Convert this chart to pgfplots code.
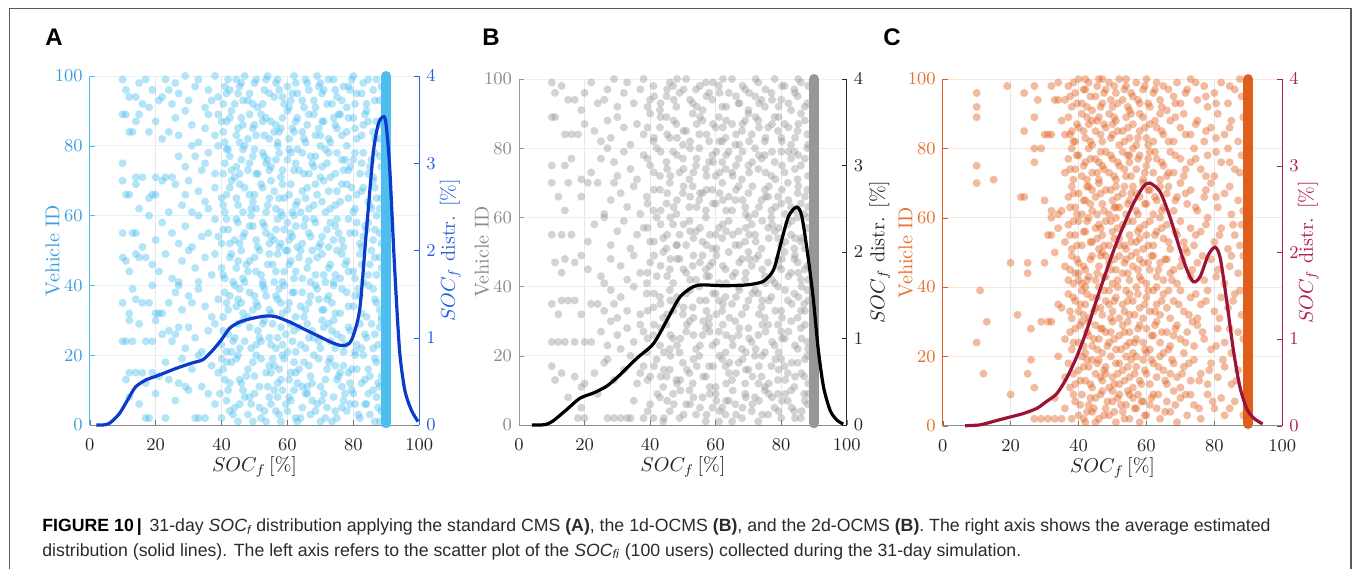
\documentclass[border=0pt]{standalone}
\usepackage{fontspec}
\newfontfamily\capfont{Liberation Sans}
\usepackage{pgfplots}
\pgfplotsset{compat=1.18}
\definecolor{scA}{HTML}{4DBEEE}
\definecolor{axAl}{HTML}{3C9EE0}
\definecolor{cvA}{HTML}{0B3BC8}
\definecolor{axAr}{HTML}{2660DD}
\definecolor{scB}{HTML}{979797}
\definecolor{axBl}{HTML}{8A8A8A}
\definecolor{cvB}{HTML}{000000}
\definecolor{axBr}{HTML}{262626}
\definecolor{scC}{HTML}{DF5E1C}
\definecolor{axCl}{HTML}{E8702A}
\definecolor{cvC}{HTML}{9B1436}
\definecolor{axCr}{HTML}{B01E45}
\definecolor{capgray}{HTML}{2B2B2B}
\pgfplotsset{
  common/.style={scale only axis, anchor=south west, xmin=0, xmax=100, clip=false,
    tick align=inside, major tick length=2.5pt, axis line style={-},
    tick label style={font=\fontsize{9}{10}\selectfont},
    label style={font=\fontsize{10}{12}\selectfont}},
  leftax/.style 2 args={common, ymin=0, ymax=100, xtick={0,20,...,100}, ytick={0,20,...,100},
    axis x line*=bottom, axis y line*=left, grid=major,
    x grid style={black!9, line width=0.4pt}, y grid style={#1!16, line width=0.4pt},
    y axis line style={draw=#1}, x axis line style={draw=black!45},
    ytick style={color=#1}, xtick style={color=black!55},
    yticklabel style={text=#2}, xticklabel style={text=black!85, yshift=-3.5pt},
    ylabel style={text=#2, at={(axis description cs:0,0.5)}, anchor=center, rotate=0, yshift=18.5pt},
    xlabel style={text=black!85, at={(axis description cs:0.5,0)}, anchor=center, yshift=-21pt},
    xlabel={$SOC_f\,[\%]$}, ylabel={Vehicle ID}},
  rightax/.style n args={3}{common, ymin=0, ymax=4, ytick={0,1,2,3,4},
    axis x line=none, axis y line*=right,
    y axis line style={draw=#1}, ytick style={color=#1},
    yticklabel style={text=#2},
    ylabel style={text=#2, at={(axis description cs:1,0.5)}, anchor=center, yshift=-#3},
    ylabel={$SOC_f$ distr. [\%]}},
  sc/.style={color=#1, only marks, mark=*, mark size=2pt, mark options={draw opacity=0, fill=#1, fill opacity=0.42}},
  col/.style={draw=#1, line width=5pt, line cap=round},
  cv/.style={draw=#1, line width=1.6pt, smooth, tension=0.45, no marks},
}
\begin{document}
\begin{tikzpicture}
\path[use as bounding box] (0,0) rectangle (677.5pt,-284.5pt);
\draw[black!65, line width=0.6pt] (4.6pt,-284.5pt) -- (4.6pt,-4.15pt) -- (675.5pt,-4.15pt) -- (675.5pt,-284.5pt);
\node[anchor=base west, inner sep=0pt, font=\capfont\bfseries\fontsize{12}{14}\selectfont] at (22.5pt,-22.5pt) {A};
\node[anchor=base west, inner sep=0pt, font=\capfont\bfseries\fontsize{12}{14}\selectfont] at (241pt,-22.5pt) {B};
\node[anchor=base west, inner sep=0pt, font=\capfont\bfseries\fontsize{12}{14}\selectfont] at (441.5pt,-22.5pt) {C};

% ---------------- Panel A ----------------
\begin{axis}[leftax={scA}{axAl}, at={(44.85pt,-212.5pt)}, width=164.8pt, height=174.5pt]
\addplot[sc=scA] coordinates {
(17,2)(18,2)(23,2)(32,2)(33,2)(35,2)(40,2)(45,1)(48,3)(52,2)(55,6)(58,1)(60,4)(63,1)(64,2)(67,3)(70,1)(72,5)(75,2)(78,4)(82,2)(85,3)(88,1)(44,5)(47,8)(50,9)(53,4)(57,8)(61,7)(66,9)(69,6)(74,8)(77,7)(80,9)(84,6)(87,8)(12,8)(15,6)(20,9)(26,7)(30,10)(36,9)(42,10)(49,6)(56,10)(62,10)(71,9)(79,6)(86,10)(38,6)
(11,13)(12,15)(14,15)(16,15)(17,12)(19,15)(21,14)(24,13)(27,12)(29,11)(31,16)(34,11)(37,17)(39,15)(41,13)(43,18)(46,12)(48,16)(50,14)(52,19)(54,11)(56,17)(58,13)(59,19)(61,15)(63,12)(65,18)(67,14)(68,20)(70,11)(72,16)(73,19)(75,13)(77,17)(79,12)(81,16)(83,20)(85,14)(87,18)(88,11)(45,20)(55,15)(62,18)(76,15)(23,18)(28,19)(33,20)(40,19)(57,12)(66,11)
(10,24)(11,24)(13,24)(17,24)(19,24)(22,26)(25,24)(26,26)(27,28)(29,22)(30,28)(32,25)(34,21)(36,27)(38,29)(40,23)(42,26)(43,21)(45,29)(47,24)(49,22)(51,27)(53,30)(55,23)(57,25)(58,28)(60,21)(62,27)(64,23)(66,29)(68,25)(70,22)(71,28)(73,24)(75,26)(77,21)(79,27)(81,23)(82,29)(84,25)(86,22)(88,28)(12,30)(15,29)(20,30)(24,27)(44,25)(52,24)(61,29)(74,30)
(10,35)(12,32)(14,36)(16,35)(18,35)(20,32)(21,32)(22,32)(24,35)(26,38)(28,33)(30,37)(31,35)(33,39)(35,34)(37,31)(39,36)(41,38)(42,33)(44,40)(46,35)(48,31)(50,37)(51,34)(53,39)(55,32)(57,36)(59,40)(60,33)(62,38)(64,34)(65,31)(67,37)(69,39)(71,33)(72,36)(74,40)(76,32)(78,38)(80,34)(82,37)(84,31)(86,39)(87,35)(88,33)(13,39)(19,40)(27,40)(45,36)(58,35)
(10,48)(11,47)(12,44)(14,49)(15,48)(17,48)(19,46)(21,44)(23,49)(25,42)(27,41)(28,47)(30,50)(32,45)(33,41)(35,48)(37,43)(38,49)(40,45)(41,42)(43,49)(45,47)(47,41)(48,44)(50,48)(52,43)(54,46)(56,41)(57,49)(59,44)(61,47)(62,42)(64,50)(66,45)(67,41)(69,48)(71,43)(73,46)(75,50)(76,42)(78,47)(80,44)(82,49)(83,41)(85,46)(87,43)(88,48)(46,50)(60,50)(74,41)
(13,55)(14,55)(16,51)(20,53)(22,58)(25,55)(27,52)(29,57)(31,51)(33,60)(34,54)(36,55)(38,59)(40,52)(42,56)(44,53)(45,58)(47,55)(49,60)(51,51)(53,57)(55,54)(57,59)(58,52)(59,56)(60,58)(61,55)(63,51)(65,57)(67,54)(68,59)(70,52)(72,56)(74,53)(75,59)(77,51)(79,55)(81,58)(82,52)(84,56)(86,53)(87,60)(88,55)(18,60)(39,54)(56,53)(62,60)(73,58)(83,54)(10,55)
(10,70)(11,66)(12,66)(15,62)(18,65)(19,66)(20,66)(22,70)(24,61)(26,69)(28,63)(30,70)(31,61)(33,67)(35,64)(36,62)(38,68)(40,65)(41,61)(43,70)(45,63)(47,68)(49,62)(50,66)(52,69)(54,63)(56,67)(58,61)(59,65)(61,69)(63,64)(64,61)(66,68)(68,63)(69,66)(71,70)(73,62)(75,67)(76,64)(78,69)(80,61)(81,66)(83,68)(85,63)(86,70)(87,65)(88,62)(14,69)(29,66)(55,70)
(10,75)(14,71)(16,71)(20,71)(23,71)(25,71)(27,77)(29,74)(31,80)(32,77)(34,73)(36,78)(38,72)(39,80)(41,75)(42,79)(44,71)(46,76)(48,73)(50,79)(51,72)(53,77)(55,74)(57,80)(58,71)(60,76)(62,73)(63,79)(65,72)(67,77)(68,74)(70,80)(72,75)(73,71)(75,78)(77,73)(78,80)(80,76)(82,72)(83,78)(85,74)(86,71)(88,77)(47,80)(61,78)(70,71)(79,74)(43,73)(54,76)(35,75)
(10,89)(11,89)(12,84)(13,84)(14,87)(15,89)(18,84)(20,87)(22,82)(24,84)(26,88)(27,83)(29,90)(31,86)(33,81)(35,85)(36,89)(38,83)(40,87)(41,81)(43,90)(45,85)(46,88)(48,82)(50,86)(52,89)(53,83)(55,87)(57,81)(58,85)(60,90)(62,84)(63,88)(65,82)(66,86)(68,89)(70,83)(71,87)(73,81)(75,85)(76,89)(78,84)(80,88)(81,82)(83,86)(84,90)(86,84)(87,87)(88,82)(39,89)(56,84)(74,88)
(10,99)(11,96)(12,94)(14,94)(15,98)(17,99)(18,91)(19,96)(21,93)(22,94)(23,99)(25,92)(26,98)(27,95)(29,100)(30,93)(32,97)(33,99)(35,91)(36,96)(38,100)(39,94)(41,97)(42,99)(44,92)(45,95)(47,100)(48,93)(50,98)(51,91)(53,96)(54,100)(56,94)(57,99)(59,92)(60,97)(62,100)(63,95)(65,91)(66,98)(68,93)(69,100)(71,96)(72,92)(74,99)(75,94)(77,97)(78,91)(80,100)(81,95)(83,98)(84,92)(86,96)(87,99)(88,93)(16,92)(24,96)(37,93)(46,98)(61,93)(70,98)(79,96)
(41.5,7)(43.5,3)(46.5,10)(49.5,1)(51.5,5)(54.5,8)(57.5,3)(59.5,6)(62.5,2)(65.5,9)(68.5,4)(70.5,7)(73.5,1)(76.5,5)(79.5,10)(81.5,3)(83.5,6)(86.5,1)(88.5,4)(42.5,4)(45.5,6)(48.5,8)(53.5,1)(56.5,4)(60.5,8)(64.5,5)(67.5,7)(71.5,2)(74.5,4)(77.5,9)(80.5,6)(84.5,9)(87.5,5)(39.5,9)(58.5,10)
(40.5,16)(42.5,12)(44.5,19)(47.5,14)(49.5,18)(51.5,11)(53.5,15)(55.5,19)(57.5,16)(60.5,13)(62.5,15)(64.5,11)(66.5,17)(69.5,19)(71.5,13)(74.5,17)(76.5,11)(78.5,15)(80.5,20)(82.5,12)(84.5,16)(86.5,19)(88.5,14)(41.5,18)(45.5,13)(50.5,20)(54.5,17)(58.5,20)(63.5,16)(67.5,12)(72.5,18)(75.5,14)(79.5,16)(83.5,13)(87.5,12)
(40.5,27)(43.5,24)(45.5,22)(48.5,28)(50.5,23)(52.5,29)(54.5,25)(56.5,22)(59.5,26)(61.5,24)(63.5,28)(65.5,22)(67.5,27)(69.5,24)(72.5,29)(74.5,22)(76.5,25)(78.5,28)(80.5,21)(83.5,26)(85.5,29)(87.5,23)(41.5,21)(46.5,30)(51.5,25)(55.5,29)(58.5,23)(62.5,21)(66.5,25)(70.5,30)(73.5,27)(77.5,23)(82.5,22)(86.5,26)(88.5,30)
(40.5,31)(42.5,37)(44.5,34)(46.5,32)(48.5,38)(50.5,35)(52.5,40)(54.5,33)(56.5,37)(58.5,32)(60.5,35)(62.5,31)(64.5,38)(66.5,35)(68.5,40)(70.5,33)(72.5,37)(74.5,32)(76.5,39)(78.5,34)(80.5,37)(82.5,32)(84.5,40)(86.5,36)(88.5,31)(41.5,35)(45.5,39)(49.5,33)(53.5,37)(57.5,39)(61.5,38)(65.5,33)(69.5,36)(73.5,35)(81.5,39)
(40.5,43)(42.5,48)(44.5,45)(46.5,42)(48.5,47)(50.5,44)(52.5,41)(54.5,49)(56.5,44)(58.5,41)(60.5,46)(62.5,44)(64.5,42)(66.5,47)(68.5,43)(70.5,49)(72.5,45)(74.5,43)(76.5,49)(78.5,44)(80.5,42)(82.5,46)(84.5,43)(86.5,48)(88.5,45)(43.5,41)(47.5,46)(51.5,50)(55.5,46)(59.5,50)(63.5,48)(67.5,50)(71.5,41)(77.5,46)(85.5,50)
(40.5,56)(42.5,52)(44.5,59)(46.5,54)(48.5,57)(50.5,53)(52.5,58)(54.5,52)(56.5,56)(58.5,60)(60.5,53)(62.5,57)(64.5,52)(66.5,55)(68.5,58)(70.5,54)(72.5,51)(74.5,57)(76.5,53)(78.5,59)(80.5,55)(82.5,51)(84.5,58)(86.5,56)(88.5,52)(41.5,59)(45.5,52)(49.5,57)(53.5,55)(57.5,51)(61.5,54)(65.5,59)(69.5,51)(75.5,55)(83.5,57)
(40.5,63)(42.5,68)(44.5,65)(46.5,61)(48.5,66)(50.5,62)(52.5,68)(54.5,65)(56.5,62)(58.5,69)(60.5,66)(62.5,63)(64.5,67)(66.5,62)(68.5,69)(70.5,64)(72.5,67)(74.5,63)(76.5,69)(78.5,65)(80.5,62)(82.5,67)(84.5,64)(86.5,68)(88.5,65)(41.5,66)(45.5,69)(49.5,64)(53.5,61)(57.5,65)(61.5,61)(65.5,65)(71.5,61)(79.5,68)(85.5,62)
(40.5,72)(42.5,77)(44.5,74)(46.5,79)(48.5,75)(50.5,72)(52.5,78)(54.5,73)(56.5,76)(58.5,73)(60.5,79)(62.5,75)(64.5,78)(66.5,72)(68.5,77)(70.5,74)(72.5,78)(74.5,72)(76.5,76)(78.5,73)(80.5,78)(82.5,75)(84.5,72)(86.5,78)(88.5,74)(41.5,79)(45.5,72)(49.5,77)(53.5,75)(57.5,78)(63.5,73)(67.5,75)(71.5,79)(77.5,76)(85.5,76)
(40.5,84)(42.5,88)(44.5,83)(46.5,86)(48.5,89)(50.5,83)(52.5,87)(54.5,82)(56.5,86)(58.5,88)(60.5,82)(62.5,87)(64.5,84)(66.5,89)(68.5,83)(70.5,87)(72.5,82)(74.5,86)(76.5,83)(78.5,88)(80.5,85)(82.5,83)(84.5,87)(86.5,82)(88.5,86)(41.5,87)(45.5,81)(49.5,85)(53.5,88)(57.5,84)(61.5,85)(65.5,81)(69.5,85)(75.5,89)(83.5,89)
(40.5,92)(42.5,96)(44.5,99)(46.5,93)(48.5,95)(50.5,99)(52.5,92)(54.5,95)(56.5,98)(58.5,94)(60.5,91)(62.5,98)(64.5,93)(66.5,96)(68.5,91)(70.5,95)(72.5,99)(74.5,96)(76.5,93)(78.5,97)(80.5,92)(82.5,95)(84.5,99)(86.5,93)(88.5,97)(41.5,95)(45.5,97)(49.5,92)(53.5,99)(57.5,96)(61.5,95)(65.5,99)(69.5,97)(73.5,92)(79.5,99)
};
\addplot[col=scA] coordinates {(90,0.5)(90,100)};
\end{axis}
\begin{axis}[rightax={axAr}{axAr}{15.5pt}, at={(44.85pt,-212.5pt)}, width=164.8pt, height=174.5pt]
\addplot[cv=cvA] coordinates {(2,0)(4,0)(6,0.02)(9,0.13)(12,0.32)(14,0.44)(17.2,0.52)(20.2,0.56)(26.3,0.65)(31,0.71)(34.4,0.75)(37.4,0.86)(40,0.98)(42.5,1.11)(45.5,1.18)(49,1.22)(53.6,1.25)(56.6,1.24)(60.7,1.18)(65,1.10)(68.8,1.03)(73.8,0.94)(76.9,0.91)(79.4,0.97)(81.9,1.32)(83.9,2.2)(86,3.11)(87.5,3.44)(88.8,3.53)(89.8,3.48)(91,2.96)(92.5,1.81)(94,0.86)(95.6,0.40)(97.6,0.17)(99.6,0.04)};
\end{axis}

% ---------------- Panel B ----------------
\begin{axis}[leftax={scB}{axBl}, at={(259.5pt,-212.5pt)}, width=163.9pt, height=173pt]
\addplot[sc=scB] coordinates {
(18,2)(20,2)(27,2)(29,2)(31,2)(33,2)(34,2)(38,2)(41,2)(44,1)(46,4)(49,2)(51,6)(54,3)(57,1)(59,5)(61,1)(63,3)(65,1)(66,6)(68,2)(71,4)(73,1)(76,3)(78,5)(80,2)(82,7)(84,4)(86,2)(88,6)(43,8)(47,9)(52,10)(56,8)(60,9)(64,7)(69,9)(72,8)(75,10)(79,9)(83,10)(87,9)(19,5)(15,8)(24,9)(35,7)(40,6)(62,5)
(10,17)(11,13)(13,15)(17,14)(19,11)(20,12)(23,15)(26,18)(27,19)(29,13)(32,16)(34,20)(36,12)(38,17)(40,14)(42,19)(44,11)(46,16)(48,13)(50,18)(52,15)(53,12)(55,20)(57,14)(58,17)(60,11)(62,19)(64,15)(65,13)(67,18)(69,12)(70,16)(72,20)(74,14)(75,11)(77,17)(79,13)(80,19)(82,15)(84,11)(85,18)(87,14)(88,20)(45,14)(63,17)(73,12)(81,17)(37,15)
(10,24)(12,24)(14,24)(17,24)(20,24)(22,24)(25,27)(27,23)(28,30)(30,26)(31,22)(33,28)(35,24)(37,29)(39,21)(41,26)(43,23)(45,29)(47,25)(49,21)(51,27)(52,30)(54,22)(56,26)(58,29)(59,23)(61,27)(63,21)(65,25)(66,30)(68,22)(70,28)(71,24)(73,26)(75,21)(76,29)(78,23)(80,27)(81,25)(83,30)(85,22)(86,28)(88,24)(46,22)(57,28)(67,26)(79,29)(38,27)
(10,35)(12,32)(13,36)(15,36)(17,36)(19,32)(22,35)(24,35)(26,33)(28,39)(30,31)(31,37)(33,33)(35,40)(37,32)(39,38)(41,34)(43,37)(44,31)(46,39)(48,35)(50,32)(51,38)(53,34)(55,40)(57,36)(58,31)(60,38)(62,33)(63,37)(65,35)(67,40)(68,32)(70,36)(72,39)(74,34)(75,31)(77,37)(79,40)(80,33)(82,36)(84,38)(85,31)(87,35)(88,39)(29,35)(47,33)(61,36)(73,38)(86,33)
(11,47)(13,44)(14,48)(17,47)(19,49)(21,45)(25,43)(26,41)(28,48)(31,46)(33,42)(35,49)(37,44)(39,41)(40,47)(42,43)(44,50)(46,45)(47,41)(49,48)(51,44)(53,46)(54,42)(56,49)(58,43)(59,47)(61,41)(63,45)(64,50)(66,44)(68,48)(69,42)(71,46)(73,49)(75,43)(76,47)(78,41)(80,45)(81,50)(83,44)(84,48)(86,42)(88,46)(57,45)(70,50)(79,48)(85,47)
(10,55)(13,55)(16,55)(21,53)(23,58)(26,60)(28,52)(30,56)(32,59)(34,51)(36,55)(38,57)(40,53)(42,60)(44,54)(45,51)(47,58)(49,55)(51,52)(52,59)(54,56)(56,53)(57,60)(59,51)(61,57)(62,54)(64,59)(66,52)(67,56)(69,53)(71,58)(72,55)(74,51)(76,57)(77,60)(79,54)(80,52)(82,58)(83,55)(85,60)(86,53)(88,57)(60,55)(70,60)(78,56)(84,51)(48,52)
(10,70)(12,66)(14,62)(15,70)(19,66)(21,70)(24,70)(26,61)(28,65)(29,70)(31,67)(33,63)(35,69)(37,61)(39,66)(41,62)(43,68)(45,64)(46,70)(48,61)(50,67)(52,63)(53,69)(55,65)(57,62)(59,68)(60,64)(62,70)(64,66)(65,62)(67,69)(69,63)(70,67)(72,61)(74,65)(75,68)(77,62)(79,66)(80,64)(82,70)(83,63)(85,67)(86,64)(87,61)(88,68)(66,65)(76,66)(56,67)
(10,75)(14,75)(16,77)(19,71)(22,73)(25,77)(27,80)(29,76)(30,72)(32,79)(34,74)(36,71)(38,78)(40,75)(42,80)(43,72)(45,76)(47,79)(49,73)(50,77)(52,71)(54,75)(55,80)(57,74)(59,78)(60,72)(62,76)(64,79)(65,73)(67,77)(68,71)(70,75)(72,80)(73,74)(75,78)(77,72)(78,76)(80,79)(81,73)(83,77)(85,71)(86,75)(88,80)(63,74)(74,77)(84,79)(58,76)
(10,89)(11,89)(14,84)(16,84)(18,84)(20,87)(23,85)(25,82)(27,88)(28,83)(30,89)(32,86)(34,81)(36,87)(38,84)(40,90)(41,82)(43,86)(45,89)(46,83)(48,87)(50,81)(51,85)(53,90)(55,84)(56,88)(58,82)(60,86)(61,89)(63,83)(65,87)(66,81)(68,85)(70,90)(71,84)(73,88)(75,82)(76,86)(78,89)(80,83)(81,87)(83,81)(85,85)(86,90)(88,84)(69,88)(79,85)(62,82)
(10,99)(11,96)(13,98)(15,94)(17,94)(19,91)(20,96)(22,99)(24,93)(26,94)(27,97)(29,100)(30,92)(32,96)(33,99)(35,93)(37,97)(38,100)(40,94)(41,98)(43,91)(45,95)(46,99)(48,92)(49,96)(51,100)(53,93)(54,97)(56,91)(57,99)(59,94)(61,98)(62,92)(64,96)(65,100)(67,93)(69,97)(70,91)(72,95)(73,99)(75,92)(77,96)(78,100)(80,94)(81,98)(83,91)(85,95)(86,99)(88,93)(47,98)(58,96)(74,94)(84,97)
(39.2,4)(42.2,9)(44.2,2)(47.2,6)(50.2,3)(53.2,8)(55.2,5)(58.2,9)(61.2,4)(63.2,7)(66.2,3)(69.2,8)(71.2,6)(74.2,3)(77.2,8)(79.2,4)(81.2,9)(84.2,2)(87.2,7)(45.2,7)(49.2,10)(52.2,6)(57.2,3)(60.2,7)(65.2,10)(68.2,5)(73.2,7)(76.2,9)(80.2,7)(83.2,5)(86.2,4)(88.2,9)
(39.2,13)(41.2,17)(43.2,14)(46.2,20)(48.2,12)(51.2,16)(53.2,19)(56.2,14)(59.2,17)(61.2,20)(63.2,12)(66.2,15)(68.2,19)(71.2,14)(73.2,17)(76.2,12)(78.2,19)(81.2,13)(83.2,18)(86.2,15)(88.2,12)(44.2,16)(49.2,13)(54.2,17)(58.2,11)(64.2,18)(69.2,16)(74.2,20)(79.2,16)(84.2,14)(87.2,19)
(39.2,25)(41.2,29)(44.2,21)(46.2,26)(48.2,23)(51.2,29)(53.2,26)(55.2,23)(58.2,27)(60.2,24)(62.2,29)(65.2,23)(67.2,28)(70.2,25)(72.2,22)(75.2,27)(77.2,24)(79.2,21)(82.2,27)(84.2,23)(87.2,29)(43.2,28)(49.2,25)(56.2,30)(63.2,26)(69.2,21)(74.2,29)(80.2,25)(86.2,25)(88.2,22)
(39.2,33)(41.2,38)(43.2,35)(45.2,32)(48.2,37)(50.2,34)(52.2,39)(55.2,36)(57.2,33)(59.2,38)(62.2,35)(64.2,31)(66.2,37)(69.2,34)(71.2,38)(73.2,32)(76.2,36)(78.2,33)(81.2,39)(83.2,35)(85.2,37)(87.2,33)(46.2,36)(53.2,31)(60.2,32)(67.2,39)(74.2,36)(80.2,31)(86.2,40)(88.2,36)
(39.2,44)(41.2,49)(43.2,46)(45.2,43)(48.2,48)(50.2,45)(52.2,42)(55.2,47)(57.2,43)(60.2,49)(62.2,46)(65.2,43)(67.2,47)(69.2,44)(72.2,48)(74.2,45)(77.2,42)(79.2,46)(82.2,43)(84.2,49)(87.2,45)(46.2,48)(53.2,49)(58.2,46)(63.2,41)(70.2,48)(75.2,41)(80.2,48)(85.2,44)(88.2,42)
(39.2,57)(41.2,53)(43.2,58)(45.2,55)(48.2,52)(50.2,58)(53.2,54)(55.2,57)(58.2,55)(60.2,51)(62.2,58)(65.2,55)(67.2,52)(69.2,57)(72.2,53)(74.2,59)(76.2,54)(79.2,57)(81.2,53)(83.2,59)(86.2,54)(88.2,60)(46.2,60)(52.2,56)(57.2,52)(63.2,56)(70.2,55)(77.2,58)(84.2,54)(87.2,51)
(39.2,64)(41.2,68)(43.2,62)(45.2,67)(47.2,63)(50.2,69)(52.2,66)(54.2,63)(57.2,68)(59.2,64)(61.2,67)(63.2,62)(66.2,68)(68.2,65)(71.2,69)(73.2,63)(75.2,66)(78.2,63)(80.2,68)(82.2,65)(84.2,62)(87.2,66)(48.2,65)(55.2,67)(62.2,65)(69.2,61)(76.2,69)(81.2,61)(85.2,69)(88.2,63)
(39.2,77)(41.2,73)(43.2,79)(45.2,74)(48.2,78)(50.2,74)(52.2,80)(54.2,77)(57.2,72)(59.2,76)(61.2,73)(63.2,78)(66.2,75)(68.2,79)(70.2,73)(73.2,78)(75.2,73)(77.2,79)(80.2,75)(82.2,79)(84.2,74)(87.2,77)(46.2,72)(53.2,73)(60.2,79)(65.2,72)(71.2,76)(78.2,71)(85.2,78)(88.2,72)
(39.2,86)(41.2,83)(43.2,89)(45.2,84)(47.2,88)(50.2,85)(52.2,82)(54.2,87)(57.2,84)(59.2,87)(61.2,82)(63.2,88)(66.2,84)(68.2,87)(70.2,82)(73.2,86)(75.2,83)(77.2,87)(80.2,82)(82.2,86)(84.2,83)(87.2,88)(48.2,83)(55.2,89)(62.2,86)(67.2,81)(72.2,89)(79.2,89)(85.2,87)(88.2,81)
(39.2,92)(41.2,95)(43.2,93)(45.2,97)(47.2,94)(50.2,97)(52.2,94)(54.2,92)(57.2,95)(59.2,99)(61.2,96)(63.2,92)(66.2,95)(68.2,98)(70.2,96)(73.2,93)(75.2,97)(77.2,94)(80.2,98)(82.2,93)(84.2,96)(87.2,92)(48.2,100)(55.2,98)(62.2,100)(67.2,93)(72.2,100)(79.2,92)(85.2,100)(88.2,98)
};
\addplot[col=scB] coordinates {(90,0.5)(90,100)};
\end{axis}
\begin{axis}[rightax={axBr}{axBr}{16.5pt}, at={(259.5pt,-212.5pt)}, width=163.9pt, height=173pt]
\addplot[cv=cvB] coordinates {(3.9,0)(6.5,0)(8.5,0.01)(10.5,0.05)(14.6,0.18)(18.6,0.31)(22.7,0.37)(26.8,0.45)(30.8,0.58)(35.9,0.77)(41,0.94)(45.1,1.21)(49.1,1.48)(53.2,1.60)(56.2,1.62)(62.3,1.61)(69.5,1.62)(74.5,1.66)(77.6,1.79)(79.6,2.06)(82.2,2.41)(84.7,2.52)(86.3,2.41)(88.3,1.91)(89.8,1.45)(91.3,0.87)(92.9,0.44)(94.9,0.17)(96.9,0.06)(98.9,0.01)};
\end{axis}

% ---------------- Panel C ----------------
\begin{axis}[leftax={scC}{axCl}, at={(471.35pt,-212.85pt)}, width=169.8pt, height=173.3pt]
\addplot[sc=scC] coordinates {
(10,96)(10,92)(10,89)(10,75)(10,70)(15,71)(19,98)(24,96)(24,85)(23,66)(24,66)(11,39)(10,24)(13,30)(12,15)(20,9)(22,32)(20,47)(25,47)(25,44)(26,19)(25,15)(27,11)(26,28)(27,89)(27,80)(27,76)(27,98)(28,94)(30,84)(31,84)(32,84)(29,80)(29,30)(31,30)(32,30)(30,47)(31,55)(32,55)(32,60)(32,62)(34,57)(34,61)(32,98)(33,94)(34,94)(34,99)(27,2)(29,2)(31,2)(33,2)(35,2)(30,65)(33,50)(34,35)(34,20)(33,8)
(36,5)(38,2)(39,7)(40,3)(41,9)(42,1)(43,6)(44,4)(45,8)(46,2)(47,10)(48,5)(49,3)(50,7)(51,1)(52,9)(53,4)(54,6)(55,2)(56,8)(57,5)(58,1)(59,7)(60,3)(62,9)(63,5)(64,2)(66,7)(67,4)(69,1)(70,8)(72,3)(74,6)(76,2)(78,9)(80,5)(83,3)(86,7)(45,1)(50,10)(55,9)(61,6)(68,10)(73,9)(82,8)
(36,14)(37,18)(39,12)(40,16)(41,20)(42,13)(43,17)(44,11)(45,15)(46,19)(47,13)(48,17)(49,11)(50,14)(51,18)(52,12)(53,16)(54,20)(55,14)(56,11)(57,17)(58,13)(59,19)(60,15)(61,12)(62,18)(63,14)(64,20)(65,16)(66,12)(68,18)(69,14)(70,11)(71,17)(73,13)(74,19)(76,15)(78,12)(79,18)(81,14)(83,17)(85,12)(87,16)(44,19)(48,15)(52,18)(57,20)(67,15)
(36,25)(38,22)(39,28)(40,24)(41,30)(42,21)(43,26)(44,23)(45,29)(46,25)(47,21)(48,27)(49,24)(50,30)(51,22)(52,26)(53,29)(54,23)(55,27)(56,21)(57,25)(58,29)(59,24)(60,28)(61,22)(62,26)(63,30)(64,24)(65,21)(66,27)(67,23)(69,29)(70,25)(71,21)(72,27)(74,23)(75,29)(77,25)(79,22)(81,28)(83,24)(85,21)(87,27)(43,30)(47,28)(55,24)(60,21)(68,26)
(35,34)(37,38)(38,31)(39,36)(40,33)(41,39)(42,35)(43,31)(44,37)(45,34)(46,40)(47,32)(48,36)(49,39)(50,33)(51,37)(52,31)(53,35)(54,39)(55,32)(56,36)(57,40)(58,34)(59,31)(60,37)(61,33)(62,39)(63,35)(64,32)(65,38)(66,34)(67,31)(68,36)(70,39)(71,33)(73,37)(75,31)(76,35)(78,39)(80,33)(82,37)(84,34)(86,38)(88,32)(42,40)(49,35)(55,38)(63,40)
(36,46)(37,42)(38,49)(39,44)(40,47)(41,41)(42,45)(43,43)(44,49)(45,42)(46,46)(47,50)(48,43)(49,47)(50,41)(51,45)(52,49)(53,44)(54,48)(55,42)(56,46)(57,50)(58,43)(59,47)(60,41)(61,45)(62,49)(63,43)(64,47)(65,42)(66,48)(67,44)(69,41)(70,46)(72,50)(73,43)(75,47)(77,42)(79,48)(81,45)(83,41)(85,49)(87,44)(40,44)(40,42)(48,49)(58,48)(68,45)
(36,53)(37,58)(38,51)(39,55)(40,59)(41,52)(42,56)(43,60)(44,53)(45,57)(46,51)(47,55)(48,59)(49,52)(50,56)(51,60)(52,54)(53,58)(54,51)(55,55)(56,59)(57,53)(58,57)(59,51)(60,55)(61,59)(62,52)(63,56)(64,60)(65,54)(66,58)(67,51)(69,55)(70,59)(71,53)(73,57)(74,52)(76,56)(78,60)(80,53)(82,57)(84,51)(86,55)(88,58)(46,58)(52,52)(58,54)
(35,62)(37,66)(38,69)(39,63)(40,67)(41,61)(42,65)(43,69)(44,62)(45,66)(46,70)(47,64)(48,68)(49,61)(50,65)(51,69)(52,63)(53,67)(54,61)(55,65)(56,69)(57,62)(58,66)(59,70)(60,64)(61,68)(62,61)(63,65)(64,69)(65,63)(66,67)(68,62)(69,66)(70,70)(72,64)(73,68)(75,62)(77,66)(79,70)(81,63)(83,67)(85,61)(87,65)(44,68)(51,63)(57,67)
(36,73)(37,77)(38,80)(39,74)(40,78)(41,72)(42,76)(43,80)(44,73)(45,77)(46,71)(47,75)(48,79)(49,73)(50,77)(51,71)(52,75)(53,79)(54,72)(55,76)(56,80)(57,74)(58,78)(59,71)(60,75)(61,79)(62,73)(63,77)(64,71)(65,75)(67,79)(68,73)(70,77)(71,72)(73,76)(74,80)(76,74)(78,78)(80,72)(82,76)(84,80)(86,74)(88,78)(46,76)(55,78)(66,72)
(35,88)(36,84)(37,89)(38,85)(39,82)(40,86)(41,90)(42,83)(43,87)(44,81)(45,85)(46,89)(47,82)(48,86)(49,90)(50,84)(51,88)(52,81)(53,85)(54,89)(55,83)(56,87)(57,81)(58,85)(59,89)(60,83)(61,87)(62,82)(63,86)(64,90)(65,84)(67,88)(68,82)(70,86)(71,90)(73,84)(75,88)(77,82)(79,86)(81,90)(83,84)(85,88)(87,82)(44,88)(50,87)(58,90)
(36,94)(37,98)(38,92)(39,96)(40,100)(41,93)(42,97)(43,99)(44,91)(45,95)(46,100)(47,93)(48,97)(49,99)(50,92)(51,96)(52,100)(53,94)(54,98)(55,91)(56,95)(57,99)(58,93)(59,97)(60,100)(61,92)(62,96)(63,99)(64,94)(65,98)(66,91)(68,95)(69,99)(70,93)(72,97)(73,100)(75,94)(77,98)(78,92)(80,96)(82,99)(84,93)(86,97)(88,95)(42,100)(47,100)(54,100)
(38.5,9)(40.5,6)(41.5,2)(43.5,8)(44.5,5)(46.5,9)(47.5,3)(48.5,7)(50.5,4)(51.5,8)(53.5,2)(54.5,10)(56.5,5)(57.5,9)(59.5,3)(61.5,8)(63.5,9)(65.5,4)(68.5,6)(71.5,9)(75.5,5)(79.5,7)(84.5,5)(88.5,3)(42.5,4)(52.5,6)(58.5,7)
(37.5,11)(38.5,15)(40.5,13)(41.5,17)(42.5,19)(43.5,12)(45.5,18)(46.5,14)(47.5,16)(49.5,20)(50.5,12)(51.5,15)(53.5,13)(54.5,17)(55.5,19)(56.5,15)(58.5,12)(59.5,16)(61.5,19)(63.5,17)(65.5,13)(67.5,19)(70.5,15)(72.5,18)(75.5,13)(78.5,16)(82.5,19)(86.5,13)
(37.5,27)(38.5,24)(40.5,29)(41.5,23)(42.5,27)(44.5,25)(45.5,22)(46.5,28)(48.5,23)(49.5,27)(50.5,25)(52.5,22)(53.5,27)(54.5,30)(56.5,24)(57.5,28)(59.5,22)(61.5,26)(62.5,29)(64.5,27)(66.5,22)(68.5,28)(71.5,24)(73.5,30)(76.5,27)(80.5,23)(84.5,28)(88.5,25)
(37.5,33)(38.5,37)(40.5,35)(41.5,32)(42.5,38)(44.5,33)(45.5,37)(46.5,34)(47.5,39)(49.5,31)(50.5,36)(51.5,40)(53.5,33)(54.5,36)(56.5,32)(57.5,38)(59.5,35)(60.5,39)(62.5,33)(64.5,36)(66.5,39)(69.5,35)(72.5,32)(74.5,38)(77.5,36)(81.5,31)(85.5,36)(87.5,39)
(37.5,45)(38.5,41)(39.5,48)(41.5,46)(42.5,42)(43.5,48)(45.5,44)(46.5,49)(47.5,43)(49.5,45)(50.5,48)(51.5,42)(53.5,47)(54.5,44)(55.5,49)(57.5,45)(58.5,42)(60.5,47)(61.5,49)(63.5,45)(65.5,48)(67.5,42)(70.5,48)(73.5,45)(76.5,49)(80.5,43)(84.5,46)(88.5,49)
(37.5,55)(38.5,59)(39.5,52)(41.5,56)(42.5,59)(43.5,53)(45.5,54)(46.5,57)(47.5,52)(49.5,59)(50.5,54)(51.5,57)(53.5,52)(54.5,59)(55.5,53)(57.5,56)(59.5,58)(60.5,52)(62.5,55)(64.5,57)(66.5,53)(68.5,56)(71.5,51)(74.5,55)(77.5,58)(81.5,55)(85.5,58)(87.5,52)
(37.5,63)(38.5,67)(39.5,61)(41.5,65)(42.5,69)(43.5,64)(45.5,61)(46.5,67)(47.5,62)(49.5,68)(50.5,63)(51.5,66)(53.5,69)(54.5,64)(55.5,67)(57.5,61)(59.5,64)(60.5,68)(62.5,66)(64.5,62)(66.5,69)(68.5,65)(71.5,67)(74.5,63)(77.5,68)(80.5,66)(84.5,69)(88.5,62)
(37.5,74)(38.5,71)(39.5,78)(41.5,75)(42.5,71)(43.5,77)(45.5,73)(46.5,79)(47.5,74)(49.5,78)(50.5,72)(51.5,76)(53.5,74)(54.5,78)(55.5,72)(57.5,77)(59.5,73)(60.5,77)(62.5,79)(64.5,76)(66.5,73)(68.5,78)(71.5,74)(74.5,77)(77.5,72)(80.5,79)(84.5,76)(87.5,73)
(37.5,84)(38.5,82)(39.5,87)(41.5,85)(42.5,89)(43.5,82)(45.5,88)(46.5,84)(47.5,87)(49.5,83)(50.5,89)(51.5,85)(53.5,82)(54.5,86)(55.5,90)(57.5,83)(59.5,86)(60.5,81)(62.5,88)(64.5,85)(66.5,82)(68.5,89)(71.5,84)(74.5,87)(77.5,85)(80.5,83)(84.5,86)(88.5,89)
(37.5,95)(38.5,99)(39.5,93)(41.5,97)(42.5,92)(43.5,95)(45.5,98)(46.5,92)(47.5,96)(49.5,94)(50.5,98)(51.5,93)(53.5,97)(54.5,92)(55.5,96)(57.5,94)(59.5,98)(60.5,93)(62.5,97)(64.5,92)(66.5,97)(68.5,93)(71.5,96)(74.5,99)(77.5,95)(80.5,93)(84.5,98)(87.5,100)
};
\addplot[col=scC] coordinates {(90,0.5)(90,100)};
\end{axis}
\begin{axis}[rightax={axCr}{axCr}{13pt}, at={(471.35pt,-212.85pt)}, width=169.8pt, height=173.3pt]
\addplot[cv=cvC] coordinates {(6.6,0)(11,0.01)(15.9,0.06)(19.8,0.10)(23.7,0.14)(27.7,0.2)(30.6,0.28)(33.6,0.37)(36.5,0.55)(39.5,0.80)(42.4,1.10)(45.3,1.45)(49.3,1.91)(52.2,2.21)(56.1,2.56)(59.1,2.76)(61,2.80)(64,2.70)(66.9,2.41)(69.9,2.03)(71.9,1.80)(73.8,1.66)(75.8,1.72)(78.2,1.97)(80.2,2.06)(81.7,1.94)(83.6,1.45)(85.6,0.87)(87.5,0.45)(89.5,0.20)(91.5,0.09)(94.2,0.02)};
\end{axis}

% ---------------- Caption ----------------
\node[anchor=base west, inner sep=0pt, text=capgray, font=\capfont\fontsize{8.85}{10}\selectfont] at (21pt,-265.85pt)
  {\textcolor{black}{\textbf{FIGURE 10}\,\textbf{|}}\, 31-day \textit{SOC\textsubscript{f}} distribution applying the standard CMS \textbf{(A)}, the 1d-OCMS \textbf{(B)}, and the 2d-OCMS \textbf{(B)}. The right axis shows the average estimated};
\node[anchor=base west, inner sep=0pt, text=capgray, font=\capfont\fontsize{8.85}{10}\selectfont] at (21pt,-278pt)
  {distribution (solid lines). The left axis refers to the scatter plot of the \textit{SOC\textsubscript{fi}} (100 users) collected during the 31-day simulation.};
\end{tikzpicture}
\end{document}
